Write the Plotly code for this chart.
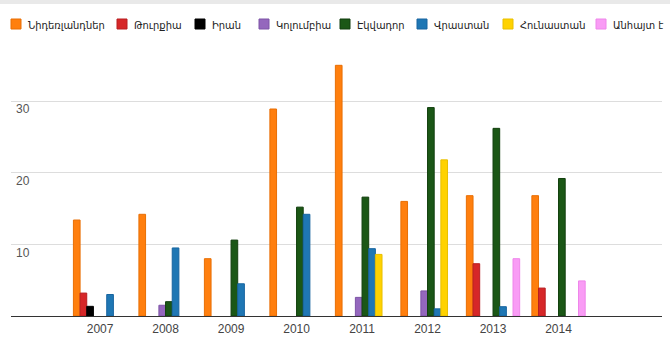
import plotly.graph_objects as go

years = [2007, 2008, 2009, 2010, 2011, 2012, 2013, 2014]
series_names = ["Նիդեռլանդներ", "Թուրքիա", "Իրան", "Կոլումբիա",
                "Էկվադոր", "Վրաստան", "Հունաստան", "Անհայտ է"]
netherlands = [13.4, 14.2, 8.0, 28.9, 35.0, 16.0, 16.8, 16.8]
turkey = [3.2, None, None, None, None, None, 7.3, 3.9]
iran = [1.35, None, None, None, None, None, None, None]
colombia = [None, 1.5, None, None, 2.6, 3.5, None, None]
ecuador = [None, 2.0, 10.6, 15.2, 16.6, 29.1, 26.2, 19.2]
georgia = [3.0, 9.5, 4.5, 14.2, 9.4, 1.0, 1.3, None]
greece = [None, None, None, None, 8.6, 21.8, None, None]
unknown = [None, None, None, None, None, None, 8.0, 4.9]
series_values = [netherlands, turkey, iran, colombia, ecuador, georgia, greece, unknown]

colors = ["#ff7f0e", "#d62728", "#000000", "#9467bd",
          "#1b5716", "#1f77b4", "#ffd200", "#f99cf5"]
edges = ["#e86f05", "#b81e20", "#000000", "#7d54a6",
         "#123f0e", "#1865a0", "#e8bf00", "#ee86ea"]

W, H = 670, 342
ML, MR, MT, MB = 11, 8, 51, 26
plot_h = H - MT - MB
plot_w = W - ML - MR

fig = go.Figure()
for name, vals, c, e in zip(series_names, series_values, colors, edges):
    fig.add_trace(go.Bar(x=years, y=vals, name=name,
                         marker=dict(color=c, line=dict(color=e, width=1)),
                         showlegend=False))

# legend drawn as shapes + text
legend_x = [11, 117, 195, 259, 340, 417, 503, 596]
shapes = []
annotations = []
for name, c, e, lx in zip(series_names, colors, edges, legend_x):
    top_px = 19
    shapes.append(dict(type="rect", xref="paper", yref="paper",
                       x0=(lx - ML) / plot_w, x1=(lx + 10 - ML) / plot_w,
                       y0=1 + (MT - top_px - 10) / plot_h, y1=1 + (MT - top_px) / plot_h,
                       fillcolor=c, line=dict(color=e, width=1)))
    annotations.append(dict(text=name, xref="paper", yref="paper",
                            x=(lx + 15 - ML) / plot_w, y=1 + (MT - 25) / plot_h,
                            xanchor="left", yanchor="middle", showarrow=False,
                            font=dict(family="DejaVu Sans Condensed, DejaVu Sans", size=11,
                                      color="#222222")))

# top gray strip
shapes.append(dict(type="rect", xref="paper", yref="paper", x0=-ML / plot_w, x1=1 + MR / plot_w,
                   y0=1 + (MT - 4) / plot_h, y1=1 + MT / plot_h, fillcolor="#e9e9e9",
                   line=dict(width=0), layer="below"))

fig.update_layout(
    width=W, height=H,
    margin=dict(l=ML, r=MR, t=MT, b=MB, pad=0, autoexpand=False),
    paper_bgcolor="white", plot_bgcolor="white",
    barmode="group", bargap=0.186, bargroupgap=0,
    shapes=shapes, annotations=annotations,
    font=dict(family="Arial, Liberation Sans", size=12, color="#444444"),
    xaxis=dict(range=[2005.64, 2015.58], tickvals=years, ticktext=[str(y) for y in years],
               showgrid=False, zeroline=False, showline=True, linecolor="#333333", linewidth=1,
               ticks="", automargin=False, ticklabelstandoff=2,
               tickfont=dict(size=12, color="#444444")),
    yaxis=dict(range=[0, 37], tickvals=[10, 20, 30], showgrid=True, gridcolor="#dddddd", gridwidth=1,
               zeroline=False, showline=False, ticks="", ticklabelposition="inside",
               ticklabelshift=8, ticklabelstandoff=2, automargin=False,
               tickfont=dict(size=12, color="#555555")),
)

fig.write_html("out.html")
